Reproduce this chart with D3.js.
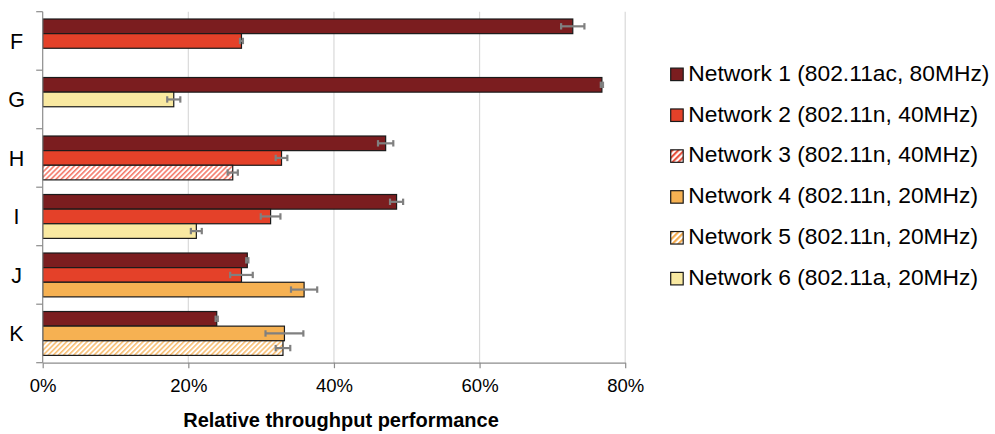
<!DOCTYPE html>
<html>
<head>
<meta charset="utf-8">
<script src="https://cdn.jsdelivr.net/npm/d3@7"></script>
<style>
  html, body { margin: 0; padding: 0; background: #fff; }
  svg { display: block; font-family: "Liberation Sans", Arial, sans-serif; }
</style>
</head>
<body>
<svg id="chart" width="995" height="434"></svg>
<script>
// Locations measured
const categories = ["F", "G", "H", "I", "J", "K"];

// Relative throughput (%) per network, null where a network is not present
const net1 = [72.8, 76.8, 47.1, 48.6, 28.1, 23.9];
const net1Err = [1.6, 0.15, 1.05, 0.9, 0.15, 0.15];
const net2 = [27.3, null, 32.8, 31.3, 27.3, null];
const net2Err = [0.2, null, 0.8, 1.35, 1.55, null];
const net3 = [null, null, 26.1, null, null, null];
const net3Err = [null, null, 0.7, null, null, null];
const net4 = [null, null, null, null, 35.9, 33.2];
const net4Err = [null, null, null, null, 1.8, 2.6];
const net5 = [null, null, null, null, null, 33.0];
const net5Err = [null, null, null, null, null, 1.0];
const net6 = [null, 18.0, null, 21.1, null, null];
const net6Err = [null, 0.9, null, 0.75, null, null];

const seriesNames = [
  "Network 1 (802.11ac, 80MHz)",
  "Network 2 (802.11n, 40MHz)",
  "Network 3 (802.11n, 40MHz)",
  "Network 4 (802.11n, 20MHz)",
  "Network 5 (802.11n, 20MHz)",
  "Network 6 (802.11a, 20MHz)"
];
const xTicks = [0, 20, 40, 60, 80];
const xTickLabels = ["0%", "20%", "40%", "60%", "80%"];
const axisTitle = "Relative throughput performance";

const series = [
  { name: seriesNames[0], values: net1, errs: net1Err, fill: "#7B1D1F" },
  { name: seriesNames[1], values: net2, errs: net2Err, fill: "#E44129" },
  { name: seriesNames[2], values: net3, errs: net3Err, fill: "url(#hatchRed)", legendFill: "url(#hatchRedLg)" },
  { name: seriesNames[3], values: net4, errs: net4Err, fill: "#F6B152" },
  { name: seriesNames[4], values: net5, errs: net5Err, fill: "url(#hatchOrange)", legendFill: "url(#hatchOrangeLg)" },
  { name: seriesNames[5], values: net6, errs: net6Err, fill: "#F9E9A1" }
];

const svg = d3.select("#chart");
const plot = { left: 42.7, right: 625.2, top: 11.7, bottom: 362.7 };

// Hatch patterns for the striped series
const defs = svg.append("defs");
function hatch(id, color, size, sw) {
  const p = defs.append("pattern")
    .attr("id", id)
    .attr("patternUnits", "userSpaceOnUse")
    .attr("width", size).attr("height", size)
    .attr("patternTransform", "rotate(45)");
  p.append("rect").attr("width", size).attr("height", size).attr("fill", "#fff");
  p.append("rect").attr("x", 0).attr("y", 0).attr("width", sw).attr("height", size).attr("fill", color);
}
hatch("hatchRed", "#F47A6B", 3.6, 1.6);
hatch("hatchOrange", "#F8BE72", 3.6, 1.6);
hatch("hatchRedLg", "#E8503C", 4.2, 2.1);
hatch("hatchOrangeLg", "#F3A848", 4.2, 2.1);

const x = d3.scaleLinear().domain([0, 80]).range([plot.left, plot.right]);
const y = d3.scaleBand().domain(categories).range([plot.top, plot.bottom]).padding(0);
const slot = d3.scaleBand().domain([0, 1, 2]).range([0, y.bandwidth()]).paddingInner(0).paddingOuter(0.5);

// Gridlines
svg.append("g")
  .selectAll("line")
  .data(xTicks.filter(d => d > 0))
  .join("line")
  .attr("x1", d => x(d)).attr("x2", d => x(d))
  .attr("y1", plot.top).attr("y2", plot.bottom)
  .attr("stroke", "#D9D9D9").attr("stroke-width", 1.2);

// Bars: each category stacks its present networks in order
const bars = [];
categories.forEach((c, ci) => {
  let k = 0;
  series.forEach(s => {
    const v = s.values[ci];
    if (v == null) return;
    bars.push({ cat: c, slot: k++, value: v, err: s.errs[ci], fill: s.fill });
  });
});

const barG = svg.append("g");
barG.selectAll("rect")
  .data(bars)
  .join("rect")
  .attr("x", x(0))
  .attr("y", d => y(d.cat) + slot(d.slot))
  .attr("width", d => x(d.value) - x(0))
  .attr("height", slot.bandwidth())
  .attr("fill", d => d.fill)
  .attr("stroke", "#1A1A1A")
  .attr("stroke-width", 1.2);

// Error bars
const errG = svg.append("g").attr("stroke", "#808080").attr("stroke-width", 2.2);
bars.forEach(d => {
  const cy = y(d.cat) + slot(d.slot) + slot.bandwidth() / 2;
  const x0 = x(d.value - d.err), x1 = x(d.value + d.err);
  errG.append("line").attr("x1", x0).attr("x2", x1).attr("y1", cy).attr("y2", cy);
  [x0, x1].forEach(xx => errG.append("line")
    .attr("x1", xx).attr("x2", xx).attr("y1", cy - 3.2).attr("y2", cy + 3.2));
});

// Axes
const axisColor = "#8C8C8C";
const xAxis = d3.axisBottom(x).tickValues(xTicks).tickFormat((d, i) => xTickLabels[i]).tickSize(5.5).tickSizeOuter(0);
const xg = svg.append("g").attr("transform", `translate(0,${plot.bottom})`).call(xAxis);
xg.select(".domain").attr("stroke", axisColor).attr("stroke-width", 1.2);
xg.selectAll(".tick line").attr("stroke", axisColor).attr("stroke-width", 1.2);
xg.selectAll(".tick text")
  .attr("y", 29).attr("dy", 0)
  .attr("fill", "#000").attr("font-size", "18.5px")
  .attr("font-family", "Liberation Sans, Arial, sans-serif");

// Category axis with ticks at group boundaries
svg.append("line")
  .attr("x1", plot.left).attr("x2", plot.left)
  .attr("y1", plot.top).attr("y2", plot.bottom)
  .attr("stroke", axisColor).attr("stroke-width", 1.2);
const boundaries = categories.map(c => y(c)).concat([plot.bottom]);
svg.append("g").selectAll("line")
  .data(boundaries)
  .join("line")
  .attr("x1", plot.left - 6.5).attr("x2", plot.left)
  .attr("y1", d => d).attr("y2", d => d)
  .attr("stroke", axisColor).attr("stroke-width", 1.2);
svg.append("g").selectAll("text")
  .data(categories)
  .join("text")
  .attr("x", 16.5)
  .attr("y", d => y(d) + y.bandwidth() / 2 + 7.8)
  .attr("text-anchor", "middle")
  .attr("font-size", "21.5px")
  .attr("fill", "#000")
  .text(d => d);

// Axis title
svg.append("text")
  .attr("x", 341).attr("y", 427)
  .attr("text-anchor", "middle")
  .attr("font-size", "20px").attr("font-weight", "bold")
  .attr("fill", "#000")
  .text(axisTitle);

// Legend
const legend = svg.append("g").attr("transform", "translate(670.7,0)");
const rows = legend.selectAll("g")
  .data(series)
  .join("g")
  .attr("transform", (d, i) => `translate(0,${80.7 + i * 40.86})`);
rows.append("rect")
  .attr("x", 0).attr("y", -12.6)
  .attr("width", 12.5).attr("height", 12.5)
  .attr("fill", d => d.legendFill || d.fill)
  .attr("stroke", "#1A1A1A").attr("stroke-width", 1.2);
rows.append("text")
  .attr("x", 17.6).attr("y", 0)
  .attr("font-size", "22.8px")
  .attr("fill", "#000")
  .text(d => d.name);
</script>
</body>
</html>
